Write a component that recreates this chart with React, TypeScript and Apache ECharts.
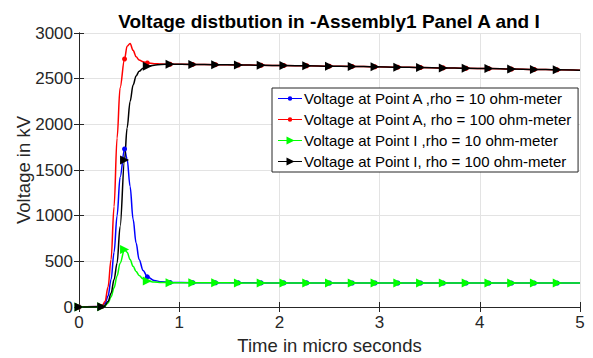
import React, { useEffect, useRef } from "react";
import * as echarts from "echarts";

const title = "Voltage distbution in -Assembly1 Panel A and I";
const xName = "Time in micro seconds";
const yName = "Voltage in kV";

const seriesNames = [
  "Voltage at Point A ,rho = 10 ohm-meter",
  "Voltage at Point A, rho = 100 ohm-meter",
  "Voltage at Point I ,rho = 10 ohm-meter",
  "Voltage at Point I, rho = 100 ohm-meter",
];

const timeUs = [
  0, 0.227, 0.26, 0.29, 0.32, 0.35, 0.38, 0.41, 0.4545, 0.48, 0.51, 0.54, 0.57, 0.6, 0.64,
  0.682, 0.75, 0.82, 0.909, 1.136, 1.364, 1.591, 1.818, 2.045, 2.273, 2.5, 2.727, 2.955,
  3.182, 3.409, 3.636, 3.864, 4.091, 4.318, 4.545, 4.773, 5.0,
];

// times carrying a marker
const markerTimes = [
  0, 0.227, 0.4545, 0.682, 0.909, 1.136, 1.364, 1.591, 1.818, 2.045, 2.273, 2.5, 2.727,
  2.955, 3.182, 3.409, 3.636, 3.864, 4.091, 4.318, 4.545, 4.773,
];

const voltA10 = [
  0, 5, 40, 120, 300, 600, 1000, 1420, 1730, 1620, 1320, 960, 700, 520, 400,
  330, 290, 276, 269, 266, 265, 265, 264, 264, 264, 263, 263, 263,
  263, 263, 262, 262, 262, 262, 262, 262, 262,
];
const voltA100 = [
  0, 5, 60, 220, 520, 1100, 1850, 2400, 2715, 2855, 2885, 2810, 2740, 2705, 2685,
  2672, 2664, 2660, 2658, 2656, 2653, 2650, 2647, 2644, 2641, 2637, 2634, 2630,
  2626, 2622, 2618, 2614, 2610, 2605, 2601, 2597, 2592,
];
const voltI10 = [
  0, 3, 15, 45, 110, 210, 340, 480, 630, 600, 520, 445, 390, 345, 308,
  286, 273, 268, 266, 265, 265, 264, 264, 264, 264, 263, 263, 263,
  263, 263, 262, 262, 262, 262, 262, 262, 262,
];
const voltI100 = [
  0, 3, 20, 60, 150, 300, 480, 880, 1610, 1960, 2250, 2430, 2530, 2580, 2615,
  2635, 2648, 2655, 2658, 2656, 2653, 2650, 2647, 2644, 2641, 2637, 2634, 2630,
  2626, 2622, 2618, 2614, 2610, 2605, 2601, 2597, 2592,
];

const yMax = 3000;
const yStep = 500;

const colors = ["#0000ff", "#ff0000", "#00ff00", "#000000"];
const symbols = ["circle", "circle", "triangle", "triangle"];
const symbolSizes = [5, 5, 9, 9];
const allValues = [voltA10, voltA100, voltI10, voltI100];

const dotIcon = "path://M0,4.4H24V5.6H0Z M12,2.8A2.2,2.2 0 1,1 12,7.2A2.2,2.2 0 1,1 12,2.8Z";
const triIcon = "path://M0,4.4H24V5.6H0Z M8.5,1L16.5,5L8.5,9Z";
const legendIcons = [dotIcon, dotIcon, triIcon, triIcon];

const FONT = "'Liberation Sans', Arial, Helvetica, sans-serif";
const AX = "#262626";

export default function App() {
  const ref = useRef<HTMLDivElement>(null);
  useEffect(() => {
    if (!ref.current) return;
    const chart = echarts.init(ref.current, undefined, { renderer: "svg" });
    const isMarker = (t: number) => markerTimes.some((m) => Math.abs(m - t) < 1e-6);
    const series = allValues.map((vals, si) => ({
      name: seriesNames[si],
      type: "line",
      xAxisIndex: 0,
      yAxisIndex: 0,
      smooth: 0.35,
      smoothMonotone: "x",
      symbol: symbols[si],
      symbolSize: symbolSizes[si],
      symbolRotate: si >= 2 ? -90 : 0,
      showSymbol: true,
      showAllSymbol: true,
      clip: false,
      lineStyle: { color: colors[si], width: 1.5 },
      itemStyle: { color: colors[si] },
      emphasis: { disabled: true },
      data: vals.map((v, i) => ({
        value: [timeUs[i], v],
        symbol: isMarker(timeUs[i]) ? symbols[si] : "none",
      })),
    }));
    chart.setOption({
      animation: false,
      backgroundColor: "#ffffff",
      textStyle: { fontFamily: FONT },
      title: {
        text: title,
        left: 324,
        textAlign: "center",
        top: 7,
        textStyle: { fontSize: 19, fontWeight: "bold", color: "#000", fontFamily: FONT },
      },
      legend: {
        left: 272,
        top: 88,
        orient: "vertical",
        backgroundColor: "#ffffff",
        borderColor: "#262626",
        borderWidth: 1,
        borderRadius: 0,
        padding: [3, 6, 3, 6],
        itemGap: 6,
        itemWidth: 24,
        itemHeight: 14,
        textStyle: { fontSize: 15, lineHeight: 14, color: "#000", fontFamily: FONT, padding: [0, 0, 0, -3] },
        data: seriesNames.map((n, i) => ({ name: n, icon: legendIcons[i] })),
      },
      grid: { left: 79, right: 13, top: 33, bottom: 51, containLabel: false, outerBoundsMode: "none" },
      xAxis: [
        {
          type: "value",
          min: 0,
          max: 5,
          interval: 1,
          name: xName,
          nameLocation: "middle",
          nameGap: 29,
          nameMoveOverlap: false,
          nameTextStyle: { fontSize: 18.5, color: AX, fontFamily: FONT },
          axisLine: { lineStyle: { color: AX, width: 1 } },
          axisTick: { inside: true, length: 5, lineStyle: { color: AX } },
          axisLabel: { fontSize: 17, color: AX, margin: 7, fontFamily: FONT },
          splitLine: { show: true, lineStyle: { color: "#e3e3e3", width: 1 } },
        },
        {
          type: "value",
          position: "top",
          min: 0,
          max: 5,
          interval: 1,
          axisLine: { show: true, lineStyle: { color: AX, width: 1 } },
          axisTick: { show: true, inside: true, length: 5, lineStyle: { color: AX } },
          axisLabel: { show: false },
          splitLine: { show: false },
        },
      ],
      yAxis: [
        {
          type: "value",
          min: 0,
          max: yMax,
          interval: yStep,
          name: yName,
          nameLocation: "middle",
          nameGap: 46,
          nameMoveOverlap: false,
          nameTextStyle: { fontSize: 18.5, color: AX, fontFamily: FONT },
          axisLine: { show: true, lineStyle: { color: AX, width: 1 } },
          axisTick: { show: true, inside: true, length: 5, lineStyle: { color: AX } },
          axisLabel: { fontSize: 17, color: AX, margin: 6, fontFamily: FONT, formatter: (v: number) => String(v) },
          splitLine: { show: true, lineStyle: { color: "#e3e3e3", width: 1 } },
        },
        {
          type: "value",
          position: "right",
          min: 0,
          max: yMax,
          interval: yStep,
          axisLine: { show: true, lineStyle: { color: AX, width: 1 } },
          axisTick: { show: true, inside: true, length: 5, lineStyle: { color: AX } },
          axisLabel: { show: false },
          splitLine: { show: false },
        },
      ],
      series,
    });
    return () => chart.dispose();
  }, []);
  return <div ref={ref} style={{ width: 593, height: 358, position: "absolute", left: 0, top: 0 }} />;
}
